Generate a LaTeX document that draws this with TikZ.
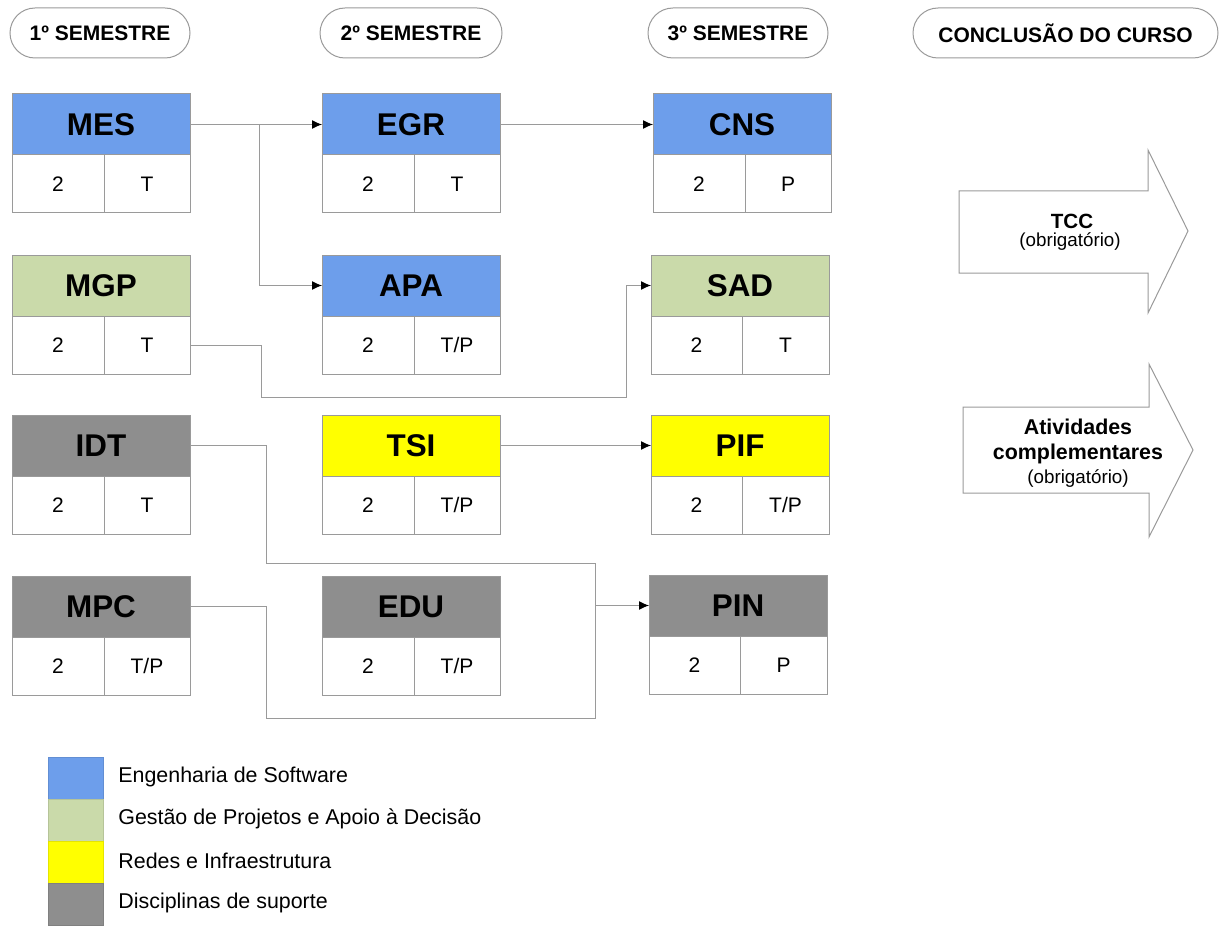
\documentclass[tikz,border=0pt]{standalone}
\usepackage{fontspec}
\setmainfont{Liberation Sans}
\usetikzlibrary{arrows.meta}
\definecolor{esblue}{HTML}{6D9EEB}
\definecolor{gpgreen}{HTML}{CADAAA}
\definecolor{riyellow}{HTML}{FFFF00}
\definecolor{dsgray}{HTML}{8E8E8E}
\definecolor{lnc}{HTML}{9A9A9A}
\newcommand\course[8]{%
  \node[hdr, fill=#5, anchor=north west] (#1) at (#2,#3) {#6};
  \node[cellbox, minimum width=#4pt, anchor=north west] (#1-n) at (#1.south west) {#7};
  \node[cellbox, minimum width=89pt-#4pt, anchor=north west] (#1-t) at (#1-n.north east) {#8};
}
\begin{document}
\begin{tikzpicture}[x=0.5pt,y=-0.5pt,
  hdr/.style={draw=lnc, line width=0.5pt, inner sep=0pt, outer sep=0pt,
    minimum width=89pt, minimum height=30.5pt,
    font=\bfseries\fontsize{15.7}{18}\selectfont},
  cellbox/.style={draw=lnc, line width=0.5pt, inner sep=0pt, outer sep=0pt,
    minimum height=29pt, font=\fontsize{10.5}{12}\selectfont},
  pill/.style={draw=lnc, line width=0.5pt, rounded corners=12.5pt, inner sep=0pt,
    minimum height=25pt, font=\bfseries\fontsize{10.5}{12}\selectfont},
  conn/.style={draw=lnc, line width=0.5pt},
  tip/.style={-{Latex[color=black,length=5pt,width=4.5pt]}},
  bigarrow/.style={draw=lnc, line width=0.5pt, fill=white},
  arrtext/.style={anchor=base, inner sep=0pt},
  legbox/.style={fill=#1, draw=#1!90!black, line width=0.3pt, inner sep=0pt,
    minimum width=27.5pt, minimum height=21pt, anchor=north west},
  legtext/.style={anchor=west, inner sep=0pt, font=\fontsize{10.7}{12}\selectfont}
]
\useasboundingbox (0,0) rectangle (1219,925);

% semester pills
\node[pill, minimum width=90pt] (s1) at (100,33) {1º SEMESTRE};
\node[pill, minimum width=91pt] (s2) at (411,33) {2º SEMESTRE};
\node[pill, minimum width=90pt] (s3) at (738,33) {3º SEMESTRE};
\node[pill, minimum width=152.5pt] (s4) at (1065.5,33) {CONCLUSÃO DO CURSO};

% courses
\course{MES}{12}{94}{46}{esblue}{MES}{2}{T}
\course{EGR}{322}{94}{46}{esblue}{EGR}{2}{T}
\course{CNS}{653}{94}{46}{esblue}{CNS}{2}{P}
\course{MGP}{12}{255}{46}{gpgreen}{MGP}{2}{T}
\course{APA}{322}{255}{46}{esblue}{APA}{2}{T/P}
\course{SAD}{651}{255}{45.5}{gpgreen}{SAD}{2}{T}
\course{IDT}{12}{415}{46}{dsgray}{IDT}{2}{T}
\course{TSI}{322}{415}{46}{riyellow}{TSI}{2}{T/P}
\course{PIF}{651}{415}{45.5}{riyellow}{PIF}{2}{T/P}
\course{MPC}{12}{576}{46}{dsgray}{MPC}{2}{T/P}
\course{EDU}{322}{576}{46}{dsgray}{EDU}{2}{T/P}
\course{PIN}{649}{575}{45.5}{dsgray}{PIN}{2}{P}

% routing coordinates
\coordinate (j1) at (259,0);
\coordinate (k1) at (261,397);
\coordinate (k2) at (626,397);
\coordinate (k3) at (266,563);
\coordinate (k4) at (595,563);
\coordinate (k5) at (266,718);
\coordinate (k6) at (595,718);

% connectors
\draw[conn, tip] (MES.east) -- (EGR.west);
\draw[conn, tip] (MES.east) -- (MES.east -| j1) |- (APA.west);
\draw[conn, tip] (EGR.east) -- (CNS.west);
\draw[conn, tip] (MGP-t.east) -| (k1) -- (k2) |- (SAD.west);
\draw[conn, tip] (TSI.east) -- (PIF.west);
\draw[conn, tip] (IDT.east) -| (k3) -- (k4) |- (PIN.west);
\draw[conn] (MPC.east) -| (k5) -- (k6) -- (k6 |- PIN.west);

% conclusion arrows
\draw[bigarrow] (959,191) -- (1148,191) -- (1148,150) -- (1188,231) -- (1148,313)
  -- (1148,273) -- (959,273) -- cycle;
\node[arrtext, font=\bfseries\fontsize{10.3}{12}\selectfont] (tcc1) at (1072,228) {TCC};
\node[arrtext, font=\fontsize{9.4}{11}\selectfont] (tcc2) at (1070,247) {(obrigatório)};

\draw[bigarrow] (963,407) -- (1149,407) -- (1149,364) -- (1193,450) -- (1149,537)
  -- (1149,493) -- (963,493) -- cycle;
\node[arrtext, font=\bfseries\fontsize{10.7}{12}\selectfont] (atv1) at (1078,434) {Atividades};
\node[arrtext, font=\bfseries\fontsize{10.7}{12}\selectfont] (atv2) at (1078,459) {complementares};
\node[arrtext, font=\fontsize{9.4}{11}\selectfont] (atv3) at (1078,483) {(obrigatório)};

% legend
\node[legbox=esblue] (lg1) at (48,757) {};
\node[legbox=gpgreen] (lg2) at (48,799) {};
\node[legbox=riyellow] (lg3) at (48,841) {};
\node[legbox=dsgray] (lg4) at (48,883) {};
\node[legtext] (lt1) at (118,777) {Engenharia de Software};
\node[legtext] (lt2) at (118,819) {Gestão de Projetos e Apoio à Decisão};
\node[legtext] (lt3) at (118,861) {Redes e Infraestrutura};
\node[legtext] (lt4) at (118,903) {Disciplinas de suporte};
\end{tikzpicture}
\end{document}
